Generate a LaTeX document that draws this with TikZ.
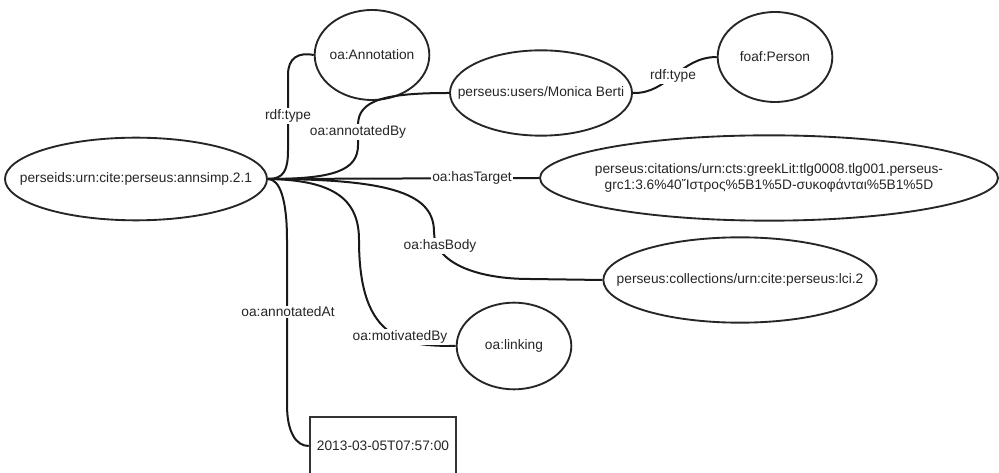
\documentclass[tikz,border=0pt]{standalone}
\usepackage{fontspec}
\setmainfont{Liberation Sans}
\usetikzlibrary{shapes.geometric}
\newcommand{\zb}[1]{\makebox[0pt]{#1}}
\begin{document}
\begin{tikzpicture}[x=0.75pt,y=-0.75pt,
  every node/.style={font=\fontsize{10.3}{13.5}\selectfont, text=black!85},
  res/.style={ellipse, draw=black!85, line width=1.4pt, inner sep=0pt, fill=white},
  lit/.style={rectangle, draw=black!80, line width=1.4pt, inner sep=0pt, fill=white},
  rel/.style={line width=1.5pt, draw=black!90},
  lab/.style={fill=white, inner sep=1pt}]
\useasboundingbox (0,0) rectangle (999,473);

% nodes
\node[res, minimum width=196.5pt, minimum height=62pt] (main) at (136,179) {\zb{perseids:urn:cite:perseus:annsimp.2.1}};
\node[res, minimum width=86pt, minimum height=67.5pt] (ann) at (372,55) {\zb{oa:Annotation}};
\node[res, minimum width=136.5pt, minimum height=64pt] (mon) at (541,93) {\zb{perseus:users/Monica Berti}};
\node[res, minimum width=86pt, minimum height=67.5pt] (foaf) at (775,57) {\zb{foaf:Person}};
\node[res, minimum width=343.5pt, minimum height=64pt] (tgt) at (769,178)
  {\zb{\begin{tabular}{@{}c@{}}perseus:citations/urn:cts:greekLit:tlg0008.tlg001.perseus-\\[-2pt]grc1:3.6\%40Ἴστρος\%5B1\%5D-συκοφάνται\%5B1\%5D\end{tabular}}};
\node[res, minimum width=205pt, minimum height=64pt] (coll) at (740,280) {\zb{perseus:collections/urn:cite:perseus:lci.2}};
\node[res, minimum width=86pt, minimum height=65pt] (link) at (514,346) {\zb{oa:linking}};
\node[lit, minimum width=110pt, minimum height=44pt] (date) at (383,446) {\zb{2013-03-05T07:57:00}};

% connectors
\draw[rel] (main.east) .. controls (284,179) and (288,170) .. (288,150) -- (288,75)
  .. controls (288,58) and (298,52) .. (ann.west);
\draw[rel] (main.east) .. controls (335,179) and (358,170) .. (358,145) -- (358,125)
  .. controls (358,100) and (385,93) .. (mon.west);
\draw[rel] (main.east) -- (tgt.west);
\draw[rel] (main.east) .. controls (395,179) and (434,195) .. (434,232)
  .. controls (434,262) and (475,279) .. (530,279) -- (coll.west);
\draw[rel] (main.east) .. controls (335,180) and (359,200) .. (359,240)
  .. controls (359,290) and (370,318) .. (390,332) .. controls (405,345) and (430,346) .. (link.west);
\draw[rel] (main.east) .. controls (280,179) and (287,200) .. (287,240) -- (287,405)
  .. controls (287,432) and (296,446) .. (date.west);
\draw[rel] (mon.east) .. controls (668,94) and (680,57) .. (foaf.west);

% labels
\node[lab] (l1) at (288,116) {rdf:type};
\node[lab] (l2) at (358,132) {oa:annotatedBy};
\node[lab] (l3) at (472,178) {oa:hasTarget};
\node[lab] (l4) at (440,246) {oa:hasBody};
\node[lab] (l5) at (400,337) {oa:motivatedBy};
\node[lab] (l6) at (288,312) {oa:annotatedAt};
\node[lab] (l7) at (673,76) {rdf:type};
\end{tikzpicture}
\end{document}
